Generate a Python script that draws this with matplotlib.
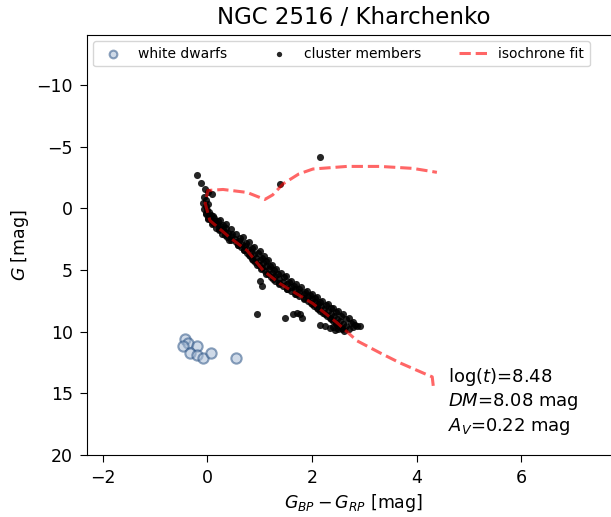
import matplotlib
matplotlib.use("Agg")
import matplotlib.pyplot as plt

# white dwarf candidates (BP-RP, G)
wd_bp_rp = [-0.43, -0.37, -0.46, -0.20, -0.33, -0.20, -0.08, 0.07, 0.55]
wd_g = [10.57, 10.89, 11.14, 11.14, 11.71, 11.87, 12.11, 11.71, 12.11]

# cluster members
cm_bp_rp = [
    -0.20, -0.12, -0.04, 0.02, 0.09, -0.06, -0.02, -0.08, -0.03, 0.02,
    -0.06, 0.00, 0.04, -0.02, 0.03, 0.08, 0.02, 0.07, 0.12, 0.10,
    0.15, 0.18, 0.16, 0.24, 0.30, 0.22, 0.30, 0.34, 0.28, 0.40,
    0.38, 0.45, 0.42, 0.52, 0.55, 0.60, 0.58, 0.66, 0.64, 0.72,
    0.70, 0.78, 0.76, 0.84, 0.82, 0.90, 0.86, 0.94, 0.92, 1.00,
    0.98, 1.06, 1.04, 1.12, 1.10, 1.18, 1.16, 1.24, 1.22, 1.30,
    1.30, 1.38, 1.37, 1.45, 1.44, 1.52, 1.52, 1.60, 1.60, 1.68,
    1.68, 1.76, 1.76, 1.84, 1.84, 1.92, 1.92, 2.00, 1.98, 2.06,
    2.04, 2.12, 2.10, 2.18, 2.16, 2.24, 2.22, 2.30, 2.28, 2.36,
    2.34, 2.42, 2.40, 2.48, 2.46, 2.54, 2.52, 2.60, 2.58, 2.66,
    2.70, 2.78, 2.86, 2.50, 2.62, 2.40, 2.15, 2.25, 2.35, 2.45,
    0.10, 0.20, 0.36, 0.48, 0.62, 0.74, 0.86, 0.96, 1.04, 1.12,
    1.20, 1.28, 1.36, 1.46, 1.56, 1.66, 1.76, 1.86, 1.96, 2.06,
    2.16, 2.26, 2.36, 2.46, 2.56, 2.66, 2.74, 2.82,
    0.25, 0.35, 0.45, 0.55, 0.68, 0.80, 0.90, 1.00, 1.08, 1.16,
    1.24, 1.32, 1.40, 1.50, 1.60, 1.70, 1.80, 1.90, 2.00, 2.10,
    2.20, 2.30, 2.40, 2.50, 2.60, 2.70, 2.78, 2.92,
    -0.02, 0.01, 0.09, 0.22, 0.34, 0.46, 0.58, 0.71, 0.79, 0.87,
    0.95, 1.02, 1.13, 1.25, 1.38, 1.53, 1.69, 1.85, 2.00, 2.12,
    2.25, 2.36, 2.47, 2.58,
    0.95, 1.49, 1.64, 1.72, 1.77, 1.81, 1.01, 1.05, 1.39, 2.15,
]
cm_g = [
    -2.68, -2.10, -1.60, -1.30, -1.20, -0.90, -0.70, -0.45, -0.20, -0.35,
    0.05, 0.15, 0.30, 0.45, 0.60, 0.55, 0.85, 0.95, 0.80, 1.15,
    1.05, 1.30, 1.55, 1.45, 1.35, 1.75, 1.70, 1.95, 2.05, 2.00,
    2.30, 2.20, 2.55, 2.45, 2.70, 2.60, 2.95, 2.85, 3.15, 3.05,
    3.40, 3.25, 3.60, 3.50, 3.85, 3.70, 4.10, 4.00, 4.35, 4.20,
    4.60, 4.45, 4.85, 4.70, 5.10, 4.95, 5.35, 5.20, 5.60, 5.45,
    5.85, 5.70, 6.05, 5.95, 6.30, 6.15, 6.50, 6.35, 6.70, 6.55,
    6.90, 6.75, 7.10, 6.95, 7.30, 7.15, 7.50, 7.35, 7.70, 7.55,
    7.90, 7.75, 8.10, 7.95, 8.30, 8.15, 8.50, 8.35, 8.70, 8.55,
    8.90, 8.75, 9.10, 8.95, 9.30, 9.15, 9.50, 9.35, 9.70, 9.55,
    9.75, 9.60, 9.55, 9.80, 9.90, 9.60, 9.45, 9.55, 9.70, 9.85,
    0.60, 1.00, 1.60, 2.10, 2.40, 2.80, 3.20, 3.60, 4.00, 4.30,
    4.70, 5.00, 5.30, 5.60, 5.95, 6.25, 6.50, 6.80, 7.05, 7.30,
    7.55, 7.85, 8.10, 8.40, 8.70, 9.00, 9.30, 9.45,
    0.95, 1.25, 1.65, 2.05, 2.35, 2.75, 3.10, 3.45, 3.85, 4.20,
    4.55, 4.90, 5.20, 5.50, 5.85, 6.10, 6.40, 6.70, 6.95, 7.20,
    7.50, 7.75, 8.05, 8.30, 8.60, 8.90, 9.20, 9.50,
    0.35, 0.75, 1.25, 1.70, 2.15, 2.55, 2.95, 3.35, 3.75, 4.15,
    4.55, 4.95, 5.35, 5.75, 6.15, 6.55, 6.95, 7.35, 7.75, 8.15,
    8.55, 8.95, 9.35, 9.75,
    8.54, 8.86, 8.54, 8.50, 8.54, 8.86, 5.85, 6.26, -2.00, -4.15,
]

# best-fit isochrone (lower main sequence, then the giant branch)
iso_bp_rp = [
    4.32, 4.30, 4.16, 3.68, 3.30, 2.86, 2.48, 2.02, 1.39, 1.07,
    0.76, 0.43, 0.05, -0.04, 0.01, 0.30, 0.76, 1.10, 1.25, 1.45,
    1.75, 2.02, 2.67, 3.30, 3.93, 4.39,
]
iso_g = [
    14.39, 13.66, 13.41, 12.52, 11.71, 10.73, 9.27, 7.72, 6.10, 5.04,
    3.41, 2.36, 0.98, -0.41, -1.46, -1.54, -1.30, -0.73, -1.10, -2.00,
    -2.80, -3.20, -3.41, -3.41, -3.25, -2.93,
]

fit_text = [r"log($t$)=8.48", r"$DM$=8.08 mag", r"$A_V$=0.22 mag"]


def make_plot(name="out.png"):
    fig = plt.figure(figsize=(6.11, 5.17), dpi=100)
    ax = fig.add_axes([0.1424, 0.1199, 0.8723, 0.8124])

    ax.scatter(wd_bp_rp, wd_g, s=55, facecolor="#a9bdd6", edgecolor="#2f5687",
               linewidth=1.5, alpha=0.55, zorder=2, label="white dwarfs")
    ax.scatter(cm_bp_rp, cm_g, s=26, color="black", alpha=0.85, linewidth=0,
               zorder=3, label="cluster members")
    ax.plot(iso_bp_rp, iso_g, "--", color="red", alpha=0.6, lw=2.2,
            zorder=4, label="isochrone fit")

    ax.set_xlim(-2.3, 7.89)
    ax.set_ylim(20, -14.07)
    ax.set_xticks([-2, 0, 2, 4, 6])
    ax.set_yticks([-10, -5, 0, 5, 10, 15, 20])
    ax.tick_params(labelsize=12.5, length=5, pad=5)
    ax.set_xlabel(r"$G_{BP}-G_{RP}$ [mag]", fontsize=12.5)
    ax.set_ylabel(r"$G$ [mag]", fontsize=12.5)
    ax.set_title("NGC 2516 / Kharchenko", fontsize=16.5, pad=8)

    ax.text(4.6, 12.75, "\n".join(fit_text), fontsize=13, va="top",
            linespacing=1.25)

    ax.legend(loc="upper left", ncol=3, fontsize=10, columnspacing=2.75,
              borderaxespad=0.45, markerscale=0.75)

    fig.savefig(name, dpi=100)
    plt.close(fig)


if __name__ == "__main__":
    make_plot()
